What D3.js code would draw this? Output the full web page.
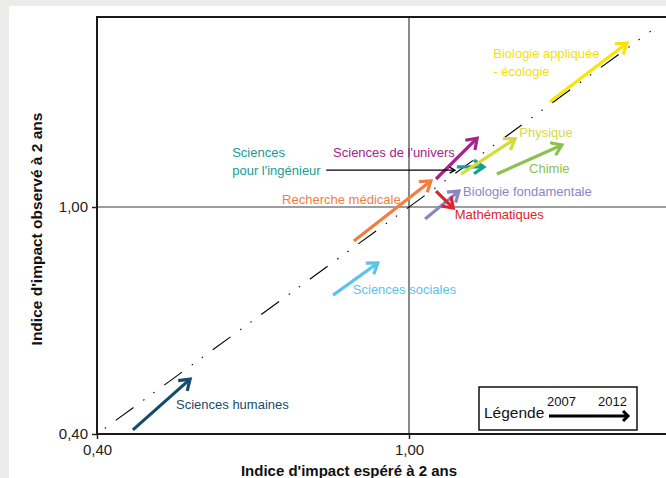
<!DOCTYPE html>
<html>
<head>
<meta charset="utf-8">
<script src="https://cdn.jsdelivr.net/npm/d3@7"></script>
<style>
  html, body { margin: 0; padding: 0; background: #ebedeb; }
  svg { display: block; }
  text { font-family: "Liberation Sans", Arial, sans-serif; }
</style>
</head>
<body>
<svg id="chart" width="666" height="478"></svg>
<script>
// ---- DATA ----
const disciplines = ["Sciences humaines", "Sciences sociales", "Recherche médicale", "Sciences de l'univers",
  "Sciences pour l'ingénieur", "Physique", "Chimie", "Biologie fondamentale", "Mathématiques", "Biologie appliquée - écologie"];
// expected impact (x) and observed impact (y), 2007 -> 2012
const expected2007 = [0.469, 0.854, 0.894, 1.052, 1.092, 1.100, 1.169, 1.031, 1.052, 1.271];
const observed2007 = [0.411, 0.767, 0.910, 1.074, 1.106, 1.087, 1.087, 0.968, 1.042, 1.278];
const expected2012 = [0.579, 0.940, 1.042, 1.131, 1.144, 1.204, 1.294, 1.096, 1.085, 1.419];
const observed2012 = [0.545, 0.852, 1.069, 1.182, 1.106, 1.180, 1.164, 1.042, 0.997, 1.433];
const colors = ["#164b6d", "#5cc3e9", "#f47d3e", "#a5238a", "#149e95", "#d4db3b", "#8cc04f", "#8a86c5", "#e3202c", "#fbe400"];
const labelLines = [["Sciences humaines"], ["Sciences sociales"], ["Recherche médicale"], ["Sciences de l'univers"],
  ["Sciences", "pour l'ingénieur"], ["Physique"], ["Chimie"], ["Biologie fondamentale"], ["Mathématiques"], ["Biologie appliquée", "- écologie"]];
const xTicks = [0.40, 1.00];
const yTicks = [0.40, 1.00];
const tickLabels = ["0,40", "1,00"];
const diagonalRange = [0.415, 1.465];
const legendYears = ["2007", "2012"];

// ---- LAYOUT (label anchors in data units: left x, middle y of first line) ----
const labelAnchorX = [0.552, 0.892, 0.756, 0.854, 0.660, 1.212, 1.231, 1.104, 1.088, 1.162];
const labelAnchorY = [0.477, 0.781, 1.021, 1.145, 1.145, 1.196, 1.103, 1.040, 0.981, 1.407];

const svg = d3.select("#chart");
const W = 666, H = 478;
const pLeft = 97, pTop = 17, pBottom = 434, pRight = 700;

svg.append("rect").attr("x", 0).attr("y", 0).attr("width", W).attr("height", H).attr("fill", "#ebedeb");
svg.append("rect").attr("x", 9).attr("y", 6).attr("width", W - 9).attr("height", H - 6).attr("fill", "#ffffff");

const x = d3.scaleLinear().domain([0.4, 1.0]).range([pLeft, 409]);
const y = d3.scaleLinear().domain([0.4, 1.0]).range([pBottom, 207]);
const fmt = v => tickLabels[xTicks.indexOf(v)];

// quadrant lines
svg.append("line").attr("x1", x(1)).attr("x2", x(1)).attr("y1", pTop).attr("y2", pBottom)
  .attr("stroke", "#3c3c3c").attr("stroke-width", 1.2);
svg.append("line").attr("x1", pLeft).attr("x2", pRight).attr("y1", y(1)).attr("y2", y(1))
  .attr("stroke", "#3c3c3c").attr("stroke-width", 1.2);

// axes
const xAxis = d3.axisBottom(x).tickValues(xTicks).tickFormat(fmt).tickSize(5).tickPadding(3);
const yAxis = d3.axisLeft(y).tickValues(yTicks).tickFormat(fmt).tickSize(5).tickPadding(4);
const gx = svg.append("g").attr("transform", `translate(0,${pBottom})`).call(xAxis);
const gy = svg.append("g").attr("transform", `translate(${pLeft},0)`).call(yAxis);
[gx, gy].forEach(g => {
  g.select(".domain").remove();
  g.selectAll(".tick line").attr("stroke", "#222").attr("stroke-width", 1.5);
  g.selectAll(".tick text").attr("fill", "#222").style("font-size", "15px")
   .style("font-family", "'Liberation Sans', Arial, sans-serif");
});
gx.selectAll(".tick text").attr("dy", "0.85em");
svg.append("line").attr("x1", pLeft).attr("x2", pLeft + 4).attr("y1", pBottom).attr("y2", pBottom).attr("stroke", "#222");

// frame
svg.append("path").attr("d", `M${pRight},${pTop} H${pLeft} V${pBottom} H${pRight}`)
  .attr("fill", "none").attr("stroke", "#1a1a1a").attr("stroke-width", 2);

// diagonal y = x
svg.append("line")
  .attr("x1", x(diagonalRange[0])).attr("y1", y(diagonalRange[0]))
  .attr("x2", x(diagonalRange[1])).attr("y2", y(diagonalRange[1]))
  .attr("stroke", "#000").attr("stroke-width", 1.1)
  .attr("stroke-dasharray", "1.5,12,22,12,1.5,11");

// arrows
function arrowHead(g, x1, y1, x2, y2, len, ang, color, sw) {
  const a = Math.atan2(y2 - y1, x2 - x1);
  const p1 = [x2 - len * Math.cos(a - ang), y2 - len * Math.sin(a - ang)];
  const p2 = [x2 - len * Math.cos(a + ang), y2 - len * Math.sin(a + ang)];
  g.append("path").attr("d", `M${p1[0]},${p1[1]} L${x2},${y2} L${p2[0]},${p2[1]}`)
    .attr("fill", "none").attr("stroke", color).attr("stroke-width", sw)
    .attr("stroke-linejoin", "miter").attr("stroke-linecap", "butt");
}

const arrows = svg.append("g");
disciplines.forEach((d, i) => {
  const x1 = x(expected2007[i]), y1 = y(observed2007[i]);
  const x2 = x(expected2012[i]), y2 = y(observed2012[i]);
  arrows.append("line").attr("x1", x1).attr("y1", y1).attr("x2", x2).attr("y2", y2)
    .attr("stroke", colors[i]).attr("stroke-width", 3.2);
  arrowHead(arrows, x1, y1, x2, y2, 12, Math.PI / 5.2, colors[i], 3.2);
});

// labels
disciplines.forEach((d, i) => {
  labelLines[i].forEach((line, k) => {
    svg.append("text")
      .attr("x", x(labelAnchorX[i]))
      .attr("y", y(labelAnchorY[i]) + k * 18)
      .attr("dominant-baseline", "central")
      .attr("fill", colors[i] === "#fbe400" ? "#f8e100" : colors[i])
      .style("font-size", "13px")
      .text(line);
  });
});

// leader line for "Sciences pour l'ingénieur"
const ing = disciplines.indexOf("Sciences pour l'ingénieur");
const ly = y(labelAnchorY[ing]) + 18;
const lx1 = x(labelAnchorX[ing]) + 94;
const lx2 = x(expected2007[ing]) - 2;
svg.append("line").attr("x1", lx1).attr("x2", lx2).attr("y1", ly).attr("y2", ly)
  .attr("stroke", "#000").attr("stroke-width", 1.4);
arrowHead(svg, lx1, ly, lx2, ly, 6, Math.PI / 6, "#000", 1.4);

// axis titles
svg.append("text").attr("x", 349).attr("y", 470).attr("text-anchor", "middle")
  .attr("dominant-baseline", "central")
  .style("font-size", "15px").style("font-weight", "bold").attr("fill", "#111")
  .text("Indice d'impact espéré à 2 ans");
svg.append("text").attr("transform", "translate(36,229) rotate(-90)").attr("text-anchor", "middle")
  .attr("dominant-baseline", "central")
  .style("font-size", "15.5px").style("font-weight", "bold").attr("fill", "#111")
  .text("Indice d'impact observé à 2 ans");

// legend
const lg = svg.append("g");
lg.append("rect").attr("x", 479).attr("y", 387).attr("width", 158).attr("height", 43)
  .attr("fill", "#fff").attr("stroke", "#111").attr("stroke-width", 1.5);
lg.append("text").attr("x", 484).attr("y", 412).attr("dominant-baseline", "central")
  .style("font-size", "15.5px").attr("fill", "#111").text("Légende");
lg.append("text").attr("x", 547).attr("y", 401).attr("dominant-baseline", "central")
  .style("font-size", "13px").attr("fill", "#111").text(legendYears[0]);
lg.append("text").attr("x", 598).attr("y", 401).attr("dominant-baseline", "central")
  .style("font-size", "13px").attr("fill", "#111").text(legendYears[1]);
lg.append("line").attr("x1", 549).attr("x2", 628).attr("y1", 416).attr("y2", 416)
  .attr("stroke", "#000").attr("stroke-width", 3);
arrowHead(lg, 549, 416, 628, 416, 7, Math.PI / 4, "#000", 3);
</script>
</body>
</html>
